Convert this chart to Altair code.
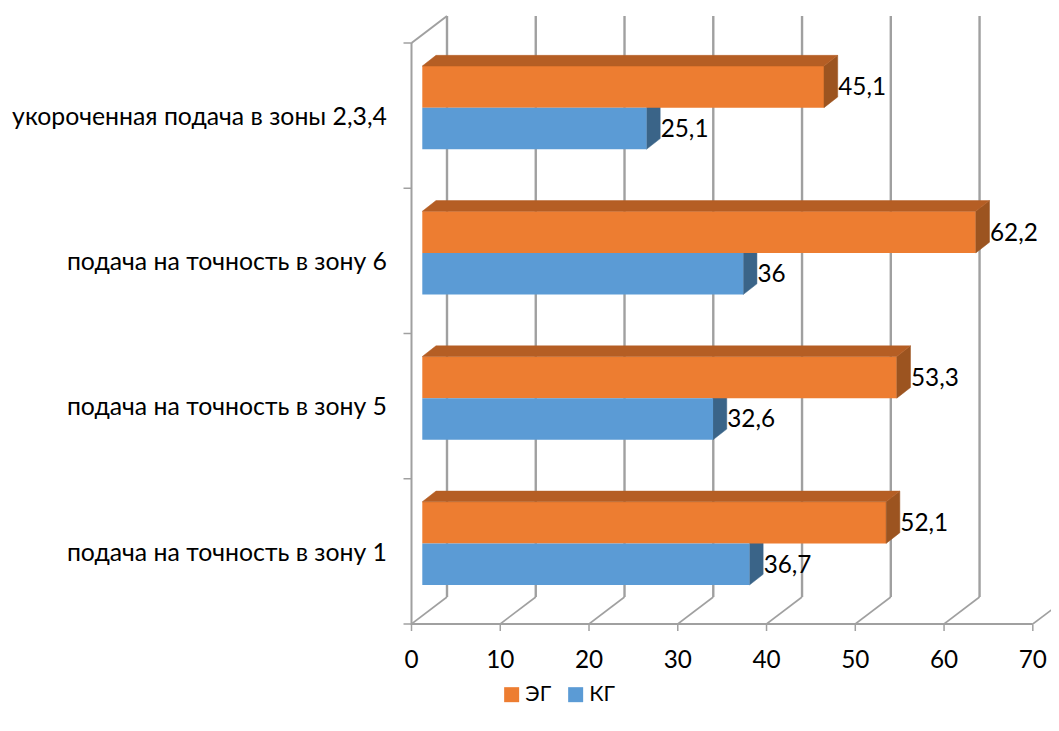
import altair as alt
import pandas as pd

categories = ["подача на точность в зону 1", "подача на точность в зону 5",
              "подача на точность в зону 6", "укороченная подача в зоны 2,3,4"]
eg_values = [52.1, 53.3, 62.2, 45.1]
kg_values = [36.7, 32.6, 36, 25.1]
x_ticks = [0, 10, 20, 30, 40, 50, 60, 70]
y_ticks = [0, 1, 2, 3, 4]
FONT = "Lato"
FS_CAT = 24.8
FS_NUM = 24.3
FS_LEG = 21.3
GRAY = "#a0a0a0"

# geometry of the pseudo-3D box, in pixels of the plot
TOTAL_W, X0_PX, Y0_PX, BOTTOM_PAD = 1043, 403.5, 616.0, 96
W, H = TOTAL_W - X0_PX, Y0_PX
PX_PER_UNIT, PX_PER_CAT = 8.876, 145.25
ux = lambda px: px / PX_PER_UNIT
uy = lambda px: px / PX_PER_CAT
XS = alt.Scale(domain=[0, W / PX_PER_UNIT], nice=False, zero=False)
YS = alt.Scale(domain=[0, H / PX_PER_CAT], nice=False, zero=False)
WALL_DX, WALL_DY = ux(35.5), uy(27)
BAR_X0, BAR_END = ux(10.8), ux(12.2)
BAR_DX, BAR_DY = ux(13.7), uy(10.7)
BAR_BOTTOM, BAR_H = uy(39), uy(41.6)


def X(f):
    return alt.X(f"{f}:Q", scale=XS, title=None, axis=None)


def Y(f):
    return alt.Y(f"{f}:Q", scale=YS, title=None, axis=None, stack=None)


def path(rows, **style):
    return alt.Chart(pd.DataFrame(rows)).mark_line(color=GRAY, **style).encode(
        x=X("x"), y=Y("y"), detail="g:N", order="i:Q")


# walls, grid and ticks
floor_rows, wall_rows, tick_rows = [], [], []
for t in x_ticks:
    floor_rows += [dict(g=t, i=0, x=t, y=0), dict(g=t, i=1, x=t + WALL_DX, y=WALL_DY)]
    tick_rows += [dict(g=f"x{t}", i=0, x=t, y=0), dict(g=f"x{t}", i=1, x=t, y=-uy(7))]
    if t < 70:
        wall_rows += [dict(g=t, i=0, x=t + WALL_DX, y=WALL_DY), dict(g=t, i=1, x=t + WALL_DX, y=4 + WALL_DY)]
for c in y_ticks:
    tick_rows += [dict(g=f"y{c}", i=0, x=0, y=c), dict(g=f"y{c}", i=1, x=-ux(8), y=c)]
floor = path(floor_rows, strokeWidth=1.6, clip=True)
walls = path(wall_rows, strokeWidth=2.4)
ticks = path(tick_rows, strokeWidth=1.5)
frame = path([dict(g="a", i=0, x=0, y=4), dict(g="a", i=1, x=0, y=0), dict(g="a", i=2, x=70, y=0),
              dict(g="b", i=0, x=0, y=4), dict(g="b", i=1, x=WALL_DX, y=4 + WALL_DY)], strokeWidth=2)

# bars
front_rows, top_rows, side_rows, label_rows = [], [], [], []
for c, (name, e, k) in enumerate(zip(categories, eg_values, kg_values)):
    for ser, v, base in (("ЭГ", e, BAR_BOTTOM + BAR_H), ("КГ", k, BAR_BOTTOM)):
        x0, x1 = BAR_X0, v + BAR_END
        y0, y1 = c + base, c + base + BAR_H
        front_rows.append(dict(series=ser, x=x0, x2=x1, y=y0, y2=y1))
        label_rows.append(dict(x=x1 + BAR_DX + ux(0.5), y=(y0 + y1) / 2 - uy(1.5),
                               label=str(v).replace(".", ",")))
        corners = [(x1, y0), (x1 + BAR_DX, y0 + BAR_DY), (x1 + BAR_DX, y1 + BAR_DY), (x1, y1), (x1, y0)]
        for i, (a, b) in enumerate(corners):
            side_rows.append(dict(series=ser, g=f"{ser}{c}", i=i, x=a, y=b))
        if ser == "ЭГ":
            corners = [(x0, y1), (x0 + BAR_DX, y1 + BAR_DY), (x1 + BAR_DX, y1 + BAR_DY), (x1, y1), (x0, y1)]
            for i, (a, b) in enumerate(corners):
                top_rows.append(dict(g=f"{c}", i=i, x=a, y=b))

side_df = pd.DataFrame(side_rows)


def poly(df, fill):
    return alt.Chart(df).mark_line(fill=fill, stroke=fill, strokeWidth=0.5).encode(
        x=X("x"), y=Y("y"), detail="g:N", order="i:Q")


side_kg = poly(side_df[side_df.series == "КГ"], "#3A6488")
side_eg = poly(side_df[side_df.series == "ЭГ"], "#9C5420")
top_eg = poly(pd.DataFrame(top_rows), "#B55E24")

front = alt.Chart(pd.DataFrame(front_rows)).mark_rect().encode(
    x=X("x"), x2="x2:Q", y=Y("y"), y2="y2:Q",
    color=alt.Color("series:N", scale=alt.Scale(domain=["ЭГ", "КГ"], range=["#ED7D31", "#5B9BD5"]),
                    legend=alt.Legend(orient="none", legendX=493 - X0_PX, legendY=676, direction="horizontal",
                                      title=None, symbolType="square", symbolSize=225, symbolStrokeWidth=0,
                                      labelFont=FONT, labelFontSize=FS_LEG, labelColor="#000000",
                                      columnPadding=13, labelOffset=3, padding=0)),
)


def texts(df, align, size):
    return alt.Chart(df).mark_text(
        align=align, baseline="middle", font=FONT, fontSize=size, color="#000000"
    ).encode(x=X("x"), y=Y("y"), text="label:N")


values = texts(pd.DataFrame(label_rows), "left", FS_NUM)
cats = texts(pd.DataFrame({"x": [ux(-24.5)] * 4, "y": [c + uy(70.5) for c in range(4)], "label": categories}),
             "right", FS_CAT)
x_labels = texts(pd.DataFrame({"x": x_ticks, "y": [-uy(37)] * len(x_ticks), "label": [str(t) for t in x_ticks]}),
                 "center", FS_NUM)

chart = alt.layer(floor, walls, ticks, frame, side_kg, front, side_eg, top_eg, values, cats, x_labels).properties(
    width=W, height=H,
    padding={"left": X0_PX, "top": 0, "right": 0, "bottom": BOTTOM_PAD},
    autosize=alt.AutoSizeParams(type="none"), background="white"
).configure_view(strokeWidth=0)

chart.save("out.html", embed_options={"renderer": "svg", "actions": False})
